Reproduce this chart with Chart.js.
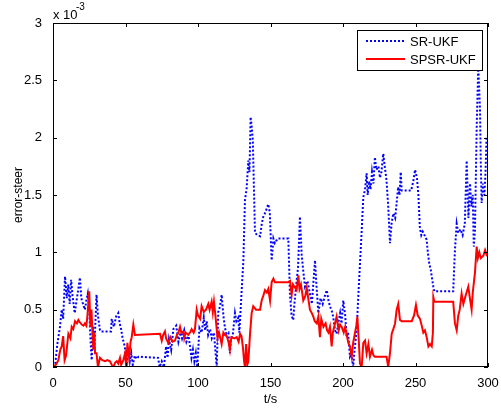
<!DOCTYPE html>
<html>
<head>
<meta charset="utf-8">
<script src="https://cdn.jsdelivr.net/npm/chart.js@4.4.1/dist/chart.umd.min.js"></script>
<style>
  html, body { margin: 0; padding: 0; background: #fff; }
</style>
</head>
<body>
<canvas id="myChart" width="501" height="408"></canvas>
<script>
// valores en unidades de 1e-3
const tSR = [0,1.5,3,4.8,6,7,8.3,9.5,10.5,11.5,12.5,13.5,15,16.5,18.6,19.5,20.7,22,23,24,25,26,26.7,27.5,28.5,30,31,32.4,33,40,40.5,42,43.5,45,46,47,48,49.5,50.8,52,53,54,55,56.5,57.7,59,72.5,73.5,75,76.5,78,79,80,81.5,83,85,86.5,88,89,90.5,92,93.5,94.5,95.5,96.5,97.5,98.5,99.5,101,102.5,104,105,106,107,108.3,109.5,111,112.9,114,115.2,116.3,117.5,118.5,119.5,121,122,122.6,124,125.5,126.5,127.8,128.5,129,130,131.3,132.4,133.5,134.7,135.5,136.3,137,137.8,138.5,139.3,141,142.8,144,145,146.5,148.5,149.5,150.8,152,153,155,162.3,163.4,164.5,165.7,166.5,168,169,170.3,171.5,172.5,173.8,175.5,177.2,178.5,180.7,181.5,183,184.5,186,187.5,188.8,190,191,192.5,193.3,194.5,195.6,197,198,199,200.2,201.5,202.5,203.5,204.8,206,207,208,209.4,210.5,211.7,212.9,214,215.2,216.3,217,218,219,220,221,222,223,224.4,225.5,226.5,227.8,228.8,230,231.2,232.4,233.5,234.7,236,237,238,239,239.8,240.5,247,248.5,249.7,251,252,253,254,255,256.6,257.7,258.5,259.5,260.5,262.3,263,276,277.2,278.4,279.5,281,282.5,284,285.3,286.5,287.6,288.5,289.5,290.2,291,292.2,293.3,294.5,295,295.6,296.5,297.5,298.3,299,300];
const srUkf = [0,0.02,0.2,0.35,0.5,0.42,0.79,0.6,0.72,0.55,0.76,0.62,0.47,0.6,0.78,0.6,0.55,0.5,0.58,0.64,0.5,0.2,0.06,0.35,0.15,0.63,0.45,0.32,0.31,0.31,0.42,0.35,0.44,0.47,0.38,0.33,0.25,0.18,0.03,0.15,0.05,0.12,0.02,0.1,0.07,0.09,0.08,0,0.05,0,0.18,0.08,0.24,0.15,0.33,0.36,0.22,0.3,0.25,0.32,0.22,0.27,0.18,0.08,0.15,0.05,0.12,0,0.34,0.3,0.43,0.32,0.4,0.28,0.33,0.25,0.3,0,0.48,0.53,0.63,0.45,0.35,0.29,0.3,0.12,0.23,0.28,0.47,0.4,0.43,0.3,0.41,0.64,0.93,1.46,1.55,1.8,1.7,2.18,2.1,1.98,1.6,1.17,1.15,1.14,1.25,1.31,1.35,1.42,1.35,0.93,1.12,1.08,1.12,1.12,0.64,0.45,0.41,0.55,0.75,0.87,1.31,0.98,0.85,0.7,0.75,0.64,0.55,0.93,0.75,0.47,0.6,0.55,0.62,0.67,0.58,0.53,0.48,0.43,0.32,0.29,0.4,0.47,0.38,0.58,0.45,0.26,0.3,0.09,0.12,0,0.15,0.32,0.6,0.9,1.19,1.48,1.55,1.69,1.5,1.62,1.55,1.7,1.6,1.83,1.72,1.75,1.65,1.7,1.86,1.75,1.63,1.4,1.08,1.25,1.34,1.3,1.43,1.57,1.5,1.7,1.54,1.54,1.62,1.72,1.65,1.5,1.22,1.15,1.18,1.14,1.11,1,0.9,0.85,0.7,0.66,0.66,1.02,1.25,1.17,1.2,1.15,1.25,1.8,1.3,1.6,1.4,1.5,1.05,1.19,2.09,2.62,2.24,1.8,1.43,1.6,1.5,1.7,2,2.02];

const tSPSR = [0,2,3.7,5,6,7,8,9,10.6,12,12.9,14,15.2,16.5,17.5,18.5,19.8,21,22,23,23.7,25,25.8,26.5,27.8,28.5,29,30,31,32.4,34,35.9,37.5,39.3,40.5,41.6,43,44,45,46.2,47,48.5,49.7,50.5,51.3,52.5,53.5,54.3,55.4,56.5,73.8,75,76,77.2,78,79.5,81,82.5,84.1,85.5,86.5,87.6,88.5,89.9,90.5,91.5,93.3,94.5,95.6,97,97.9,99.1,100,101.5,102.5,104,105.5,107.1,108,109.4,110.2,111,112,112.9,113.5,114.5,116.3,117.5,118.5,119.8,121,122,123,125,126.7,128,129,130,131,131.8,132.4,133.2,134,134.7,135.9,137,138.1,140,142.8,143.9,145,146.2,147.5,148.5,149.7,150.8,152,153,162.3,163.5,164.6,165.5,166.5,168,169.2,170,171,172.6,174,175,176,177.2,178.5,179.5,180.5,181.9,183,184.1,185,186.5,188,189,190,191,192.2,193,194.5,195.6,197,198,199.1,200.5,201.5,202.5,203.7,204.8,206,207,208,209.2,209.9,210.8,211.7,212.9,214,215.2,216.3,217.5,218.6,220,221,222,230,231.2,232.4,233.6,234.7,235.9,237,238.1,239.3,240.5,247.4,249,250.3,251.5,253.1,254.5,255.4,256.5,257.7,258.9,260,261.2,262,262.3,263,276,277.2,278.4,279.5,280.5,281.8,283,284.5,286.4,287.5,288.7,289.5,291,292.2,293,294,295,296.8,298,299,300];
const spsrUkf = [0,0.02,0.06,0.15,0.18,0.27,0.06,0.1,0.29,0.25,0.35,0.33,0.4,0.38,0.41,0.39,0.37,0.36,0.38,0.36,0.44,0.66,0.35,0.5,0.15,0.3,0.12,0.12,0,0.08,0.06,0.05,0.06,0.05,0.02,0,0.04,0.05,0.03,0.08,0.02,0.06,0.12,0,0.21,0.08,0.22,0.26,0.37,0.28,0.29,0.23,0.28,0.31,0.25,0.21,0.26,0.22,0.23,0.28,0.3,0.35,0.3,0.31,0.25,0.3,0.28,0.3,0.33,0.3,0.33,0.5,0.45,0.42,0.53,0.48,0.5,0.55,0.5,0.57,0.48,0.57,0.45,0.33,0.25,0.3,0.2,0.3,0.28,0.27,0.22,0.15,0.26,0.25,0.26,0.22,0.29,0.27,0.17,0.05,0,0.2,0.02,0.05,0.29,0.47,0.53,0.5,0.5,0.58,0.62,0.67,0.65,0.68,0.58,0.74,0.77,0.74,0.74,0.75,0.63,0.72,0.7,0.67,0.8,0.68,0.72,0.58,0.62,0.69,0.6,0.5,0.47,0.44,0.4,0.38,0.44,0.26,0.42,0.35,0.38,0.32,0.3,0.35,0.18,0.3,0.38,0.44,0.32,0.37,0.35,0.3,0.35,0.28,0.21,0.18,0.09,0.21,0.28,0.36,0.44,0.25,0.03,0,0.21,0.23,0.12,0.2,0.09,0.15,0.1,0.09,0.09,0,0.12,0.29,0.33,0.38,0.5,0.55,0.41,0.4,0.4,0.45,0.54,0.45,0.42,0.35,0.3,0.32,0.26,0.18,0.2,0.18,0.3,0.61,0.57,0.57,0.38,0.32,0.45,0.5,0.64,0.55,0.62,0.7,0.6,0.5,0.65,0.82,1.05,0.95,1,0.95,0.97,1.02,0.98,1];

const xTicks = [0, 50, 100, 150, 200, 250, 300];
const yTicks = [0, 0.5, 1, 1.5, 2, 2.5, 3];
const names = ['SR-UKF', 'SPSR-UKF'];

const fuente = 'Liberation Sans, Arial, Helvetica, sans-serif';

// marco, ticks interiores, leyenda y exponente (estilo matlab)
const marco = {
    id: 'marco',
    afterDatasetsDraw(chart) {
        const { ctx, chartArea: a, scales: { x, y } } = chart;
        ctx.save();
        ctx.strokeStyle = '#000';
        ctx.lineWidth = 1;
        ctx.strokeRect(a.left + 0.5, a.top + 0.5, a.right - a.left - 1, a.bottom - a.top - 1);
        ctx.beginPath();
        xTicks.forEach(v => {
            const px = Math.round(x.getPixelForValue(v)) + 0.5;
            ctx.moveTo(px, a.bottom); ctx.lineTo(px, a.bottom - 4);
            ctx.moveTo(px, a.top); ctx.lineTo(px, a.top + 4);
        });
        yTicks.forEach(v => {
            const py = Math.round(y.getPixelForValue(v)) + 0.5;
            ctx.moveTo(a.left, py); ctx.lineTo(a.left + 4, py);
            ctx.moveTo(a.right, py); ctx.lineTo(a.right - 4, py);
        });
        ctx.stroke();

        // leyenda
        const lx = 357, ly = 30, lw = 125, lh = 40;
        ctx.fillStyle = '#fff';
        ctx.fillRect(lx, ly, lw, lh);
        ctx.strokeRect(lx + 0.5, ly + 0.5, lw, lh);
        chart.data.datasets.forEach((ds, i) => {
            const yy = ly + 11 + i * 18;
            ctx.beginPath();
            ctx.strokeStyle = ds.borderColor;
            ctx.lineWidth = ds.borderWidth;
            ctx.setLineDash(ds.borderDash || []);
            ctx.moveTo(lx + 9, yy); ctx.lineTo(lx + 48, yy);
            ctx.stroke();
            ctx.setLineDash([]);
            ctx.fillStyle = '#000';
            ctx.font = '13px ' + fuente;
            ctx.textBaseline = 'middle';
            ctx.textAlign = 'left';
            ctx.fillText(ds.label, lx + 53, yy + 1);
        });

        // x 10^-3
        ctx.fillStyle = '#000';
        ctx.textBaseline = 'alphabetic';
        ctx.font = '13px ' + fuente;
        ctx.fillText('x 10', 53, 19);
        ctx.font = '10px ' + fuente;
        ctx.fillText('-3', 76, 10);
        ctx.restore();
    }
};

const ctx = document.getElementById('myChart');
new Chart(ctx, {
    type: 'line',
    data: {
        datasets: [
            {
                label: names[0],
                data: tSR.map((t, i) => ({ x: t, y: srUkf[i] })),
                borderColor: '#0000ff',
                borderWidth: 2,
                borderDash: [2, 2],
                pointRadius: 0,
                tension: 0,
                order: 2
            },
            {
                label: names[1],
                data: tSPSR.map((t, i) => ({ x: t, y: spsrUkf[i] })),
                borderColor: '#ff0000',
                borderWidth: 2,
                pointRadius: 0,
                tension: 0,
                order: 1
            }
        ]
    },
    options: {
        responsive: false,
        animation: false,
        layout: { padding: { left: 0, top: 23, right: 13, bottom: 0 } },
        plugins: { legend: { display: false }, tooltip: { enabled: false } },
        scales: {
            x: {
                type: 'linear',
                min: 0, max: 300,
                afterBuildTicks: s => { s.ticks = xTicks.map(v => ({ value: v })); },
                afterFit: s => { s.height = 41; },
                grid: { display: false },
                border: { display: false },
                ticks: { color: '#000', font: { family: fuente, size: 13 }, padding: 1, maxRotation: 0 },
                title: { display: true, text: 't/s', color: '#000', font: { family: fuente, size: 13 }, padding: { top: 0, bottom: 1 } }
            },
            y: {
                type: 'linear',
                min: 0, max: 3,
                afterBuildTicks: s => { s.ticks = yTicks.map(v => ({ value: v })); },
                afterFit: s => { s.width = 53; },
                grid: { display: false },
                border: { display: false },
                ticks: { color: '#000', font: { family: fuente, size: 13 }, padding: 3, callback: v => String(v) },
                title: { display: true, text: 'error-steer', color: '#000', font: { family: fuente, size: 12 }, padding: { top: 11, bottom: 0 } }
            }
        }
    },
    plugins: [marco]
});
</script>
</body>
</html>
